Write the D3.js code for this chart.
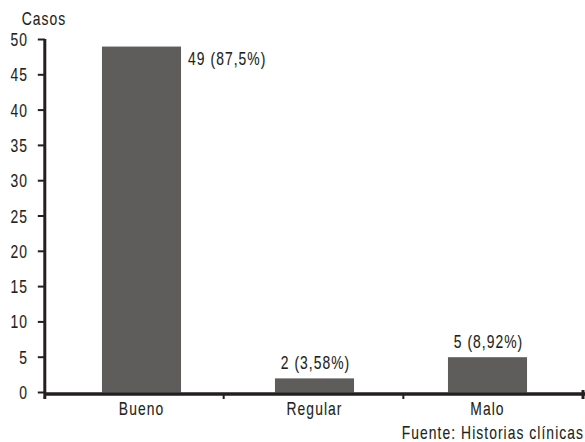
<!DOCTYPE html>
<html>
<head>
<meta charset="utf-8">
<script src="https://cdn.jsdelivr.net/npm/d3@7"></script>
<style>
  html, body { margin: 0; padding: 0; background: #ffffff; }
  svg { display: block; }
  text { font-family: "Liberation Sans", Arial, sans-serif; fill: #231f20; stroke: #231f20; stroke-width: 0.12px; }
</style>
</head>
<body>
<script>
// Evaluación de resultados: casos por categoría
const categories = ["Bueno", "Regular", "Malo"];
const casos = [49, 2, 5];
const porcentajes = ["87,5%", "3,58%", "8,92%"];
const yTickValues = [0, 5, 10, 15, 20, 25, 30, 35, 40, 45, 50];
const yTitle = "Casos";
const fuente = "Fuente: Historias clínicas";

const W = 585, H = 442;
const ink = "#231f20";
const barColor = "#5e5d5b";
const fontSize = 18.5;
const spacing = 1.4;      // letter spacing, in unscaled units
const narrow = 0.75;      // horizontal squeeze for a condensed look

const svg = d3.select("body").append("svg")
  .attr("width", W).attr("height", H);

svg.append("rect").attr("width", W).attr("height", H).attr("fill", "#fff");

// condensed text placed at (px, py)
function narrowText(sel, px, py, anchor) {
  return sel
    .attr("transform", (d, i) => `translate(${px(d, i)},${py(d, i)}) scale(${narrow},1)`)
    .attr("text-anchor", anchor)
    .attr("font-size", fontSize)
    .attr("letter-spacing", spacing);
}

const y = d3.scaleLinear().domain([0, 50]).range([392.5, 39.5]);

// bars sit in a band scale; category boundaries use a separate linear scale
const x = d3.scaleBand().domain(categories).range([55, 574])
  .paddingInner(0.543).paddingOuter(0.2715);
const xEdge = d3.scaleLinear().domain([0, categories.length]).range([44, 583]);

const axisX = 44.8;

// bars
svg.selectAll("rect.bar").data(categories).join("rect")
  .attr("class", "bar")
  .attr("x", d => x(d))
  .attr("width", x.bandwidth())
  .attr("y", (d, i) => y(casos[i]))
  .attr("height", (d, i) => y(0) - y(casos[i]))
  .attr("fill", barColor);

// y axis ticks and labels
svg.selectAll("line.ytick").data(yTickValues).join("line")
  .attr("class", "ytick")
  .attr("x1", axisX - 7).attr("x2", axisX)
  .attr("y1", d => y(d)).attr("y2", d => y(d))
  .attr("stroke", ink).attr("stroke-width", 2);
narrowText(
  svg.selectAll("text.ylab").data(yTickValues).join("text").attr("class", "ylab"),
  () => 28, d => y(d) + 6.5, "end"
).text(d => d3.format("d")(d));
svg.append("line")
  .attr("x1", axisX).attr("x2", axisX)
  .attr("y1", y(50) - 0.5).attr("y2", 399)
  .attr("stroke", ink).attr("stroke-width", 3);

// x baseline and category ticks
svg.append("line")
  .attr("x1", axisX).attr("x2", 585)
  .attr("y1", 394).attr("y2", 394)
  .attr("stroke", ink).attr("stroke-width", 3.5);
svg.selectAll("line.xtick").data(d3.range(1, categories.length + 1)).join("line")
  .attr("class", "xtick")
  .attr("x1", d => xEdge(d)).attr("x2", d => xEdge(d))
  .attr("y1", d => d === categories.length ? 390 : 394)
  .attr("y2", 399)
  .attr("stroke", ink).attr("stroke-width", d => d === categories.length ? 3 : 2);

// category labels
narrowText(
  svg.selectAll("text.cat").data(categories).join("text").attr("class", "cat"),
  d => x(d) + x.bandwidth() / 2, () => 414.5, "middle"
).text(d => d);

// value labels: first one to the right of its bar, others above
svg.selectAll("text.val").data(categories).join("text")
  .attr("class", "val")
  .attr("transform", (d, i) => {
    const px = i === 0 ? x(d) + x.bandwidth() + 7 : x(d) + x.bandwidth() / 2 + 1;
    const py = i === 0 ? y(casos[i]) + 18 : y(casos[i]) - 9.5;
    return `translate(${px},${py}) scale(${narrow},1)`;
  })
  .attr("text-anchor", (d, i) => i === 0 ? "start" : "middle")
  .attr("font-size", fontSize).attr("letter-spacing", spacing)
  .text((d, i) => `${casos[i]} (${porcentajes[i]})`);

// axis title
narrowText(svg.append("text").datum(yTitle), () => 44, () => 25, "middle").text(yTitle);

// source note
narrowText(svg.append("text").datum(fuente), () => 584, () => 439, "end").text(fuente);
</script>
</body>
</html>
